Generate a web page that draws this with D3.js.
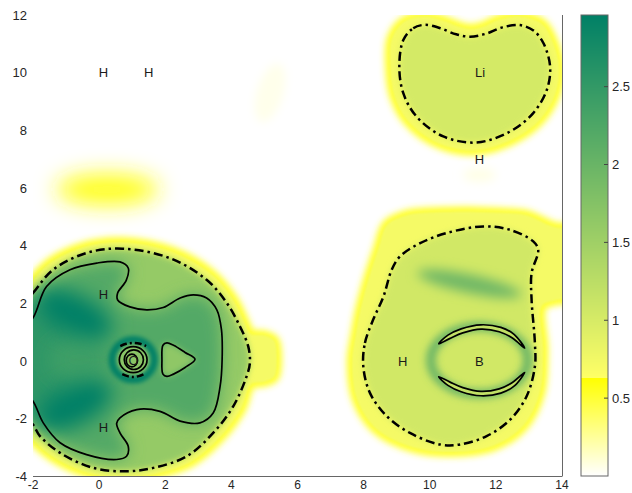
<!DOCTYPE html>
<html><head><meta charset="utf-8">
<script src="https://cdn.jsdelivr.net/npm/d3@7"></script>
<style>body{margin:0;background:#fff}svg{display:block;font-family:"Liberation Sans",Arial,sans-serif}</style>
</head><body><script>
// ---------- data (data units) ----------
const xTicks = [-2,0,2,4,6,8,10,12,14];
const yTicks = [-4,-2,0,2,4,6,8,10,12];
const cbTicks = [0.5,1,1.5,2,2.5];
const valueRange = [0, 2.96];
const yellowCut = 0.63;

const atomNames = ["H","H","H","H","Li","H","H","B","O"];
const atomPos = [[0.13,2.3],[0.13,-2.29],[0.13,10],[1.5,10],[11.52,10],[11.5,6.98],[9.18,0],[11.5,0],[1.04,0.03]];

// contour at the dash-dot level
const leftDash = [[-2.6,1.5],[-2.0,2.36],[-1.39,3.17],[-0.38,3.75],[0.7,3.9],[2.14,3.57],[3.25,2.82],[3.86,2.02],[4.26,1.2],[4.51,0.51],[4.56,-0.06],[4.46,-0.53],[4.06,-1.56],[3.45,-2.49],[2.65,-3.3],[1.64,-3.7],[0.83,-3.82],[-0.18,-3.7],[-1.18,-3.18],[-1.79,-2.6],[-2.0,-2.2],[-2.6,-1.4],[-2.9,0.05]];
const rightDash = [[7.99,-0.18],[8.04,0.63],[8.29,1.44],[8.6,2.24],[8.85,3.17],[9.1,3.63],[9.71,4.09],[10.51,4.44],[11.62,4.67],[12.43,4.55],[13.13,4.15],[13.28,3.86],[13.08,3.05],[13.08,2.13],[13.18,0.63],[13.18,-0.18],[12.93,-1.22],[12.43,-2.03],[11.72,-2.6],[10.92,-2.89],[10.31,-2.89],[9.4,-2.49],[8.7,-1.91],[8.19,-1.1]];
const liDash = [[9.2,11.13],[9.5,11.54],[9.85,11.66],[10.3,11.55],[10.8,11.33],[11.22,11.25],[11.7,11.35],[12.2,11.57],[12.73,11.65],[13.15,11.45],[13.44,11.02],[13.64,10.21],[13.54,9.4],[13.13,8.6],[12.43,7.96],[11.42,7.58],[10.41,7.79],[9.6,8.48],[9.2,9.29],[9.08,10.21]];
const oArcTop = [[0.64,0.52],[0.82,0.6],[1.03,0.63],[1.24,0.6],[1.42,0.52]];
const oArcBottom = [[0.7,-0.45],[0.86,-0.52],[1.03,-0.55],[1.2,-0.52],[1.36,-0.45]];

// edge of the yellow cut (value 0.63)
const leftPale = [[-2.7,1.7],[-2.15,2.6],[-1.5,3.4],[-0.42,3.98],[0.7,4.13],[2.2,3.8],[3.4,3.02],[4.05,2.15],[4.42,1.3],[4.58,0.95],[5.0,0.9],[5.3,0.72],[5.38,0.05],[5.3,-0.55],[5.0,-0.72],[4.6,-0.8],[4.3,-1.65],[3.65,-2.66],[2.75,-3.52],[1.67,-3.93],[0.83,-4.05],[-0.2,-3.93],[-1.3,-3.4],[-1.95,-2.8],[-2.2,-2.4],[-2.8,-1.5],[-3.1,0.05]];
const rightPale = [[7.64,0.0],[7.75,0.9],[7.89,1.78],[8.15,2.9],[8.44,3.92],[8.7,4.73],[9.3,5.07],[10.2,5.17],[11.22,5.19],[12.1,5.15],[12.93,5.07],[13.74,4.67],[14.6,4.5],[14.6,2.3],[13.8,2.1],[13.39,1.9],[13.44,0.4],[13.34,-1.1],[12.83,-2.26],[11.92,-2.95],[10.71,-3.15],[9.5,-3.0],[8.39,-2.37],[7.79,-1.33]];
const liPale = [[8.85,11.2],[9.25,11.8],[9.85,11.95],[10.4,11.82],[10.9,11.6],[11.22,11.52],[11.6,11.6],[12.1,11.85],[12.75,11.95],[13.4,11.7],[13.72,11.1],[13.92,10.2],[13.82,9.3],[13.35,8.38],[12.55,7.7],[11.42,7.3],[10.3,7.52],[9.35,8.3],[8.92,9.2],[8.8,10.2]];

// solid contour level
const leftSolid = [[-2.6,0.7],[-2.0,1.5],[-1.59,2.59],[-0.88,3.17],[-0.07,3.4],[0.63,3.44],[0.88,3.23],[0.82,2.8],[0.56,2.36],[0.56,2.12],[0.93,1.88],[1.44,1.78],[1.94,1.86],[2.45,2.19],[2.85,2.3],[3.25,2.19],[3.56,1.78],[3.7,1.09],[3.72,0.05],[3.66,-0.87],[3.45,-1.8],[3.05,-2.14],[2.45,-2.08],[1.84,-1.74],[1.14,-1.68],[0.63,-1.97],[0.53,-2.16],[0.63,-2.49],[0.88,-2.95],[0.83,-3.3],[0.53,-3.41],[-0.38,-3.24],[-1.18,-2.83],[-1.69,-2.14],[-2.0,-1.39],[-2.6,-0.6]];
const triangle = [[1.93,0.55],[2.05,0.63],[2.25,0.55],[2.6,0.3],[2.9,0.06],[2.6,-0.22],[2.25,-0.45],[2.05,-0.53],[1.93,-0.45],[1.9,0.05]];
const crescentTop = [[10.27,0.6],[10.55,0.9],[10.95,1.12],[11.55,1.26],[12.15,1.17],[12.55,0.93],[12.87,0.45],[12.5,0.8],[12.1,1.02],[11.55,1.11],[11.0,0.98],[10.6,0.78]];
const crescentBottom = [[10.27,-0.54],[10.55,-0.84],[10.95,-1.06],[11.55,-1.2],[12.15,-1.11],[12.55,-0.87],[12.87,-0.39],[12.5,-0.74],[12.1,-0.96],[11.55,-1.05],[11.0,-0.92],[10.6,-0.72]];
// rings around O: [cx, cy, rx, ry]
const oRings = [[1.03,0.05,0.42,0.45],[1.05,0.05,0.29,0.34],[0.99,0.02,0.17,0.22]];

// plateau values of the basins
const basinValues = {left: 1.6, right: 1.05, li: 1.02, solid: 2.2, pale: 0.72, halo: 0.52, crescent: 1.1};
// local features of the field: [cx, cy, rx, ry, angle, value]
const glowSpots = [[0.25,5.95,1.55,0.55,0,0.56],[5.17,9.3,0.4,1.05,17,0.05],[11.5,6.45,0.5,0.25,0,0.06]];
const leftSpots = [[-2.0,0.05,1.3,2.2,0,2.55],[-0.6,0.05,0.95,0.8,0,2.4],[-0.75,1.62,1.25,0.7,26,2.96],[-0.75,-1.52,1.25,0.7,-26,2.96]];
const rightSpots = [[11.2,2.68,1.6,0.32,12,1.95]];
const oCore = [1.03,0.05,0.5,0.55,0,1.7];
const oDarkRing = [1.03,0.05,0.64,0.7,0,2.96];
const bRing = [11.5,0.03,1.47,1.17,0,2.3];

// ---------- rendering ----------
const W = 632, H = 493;
const x = d3.scaleLinear().domain([-2,14]).range([33,562]);
const y = d3.scaleLinear().domain([-4,12]).range([476.5,15]);
const color = d3.scaleLinear()
  .domain([valueRange[0], yellowCut, yellowCut+1e-6, valueRange[1]])
  .range(["#ffffff","#ffff00","#ffff66","#008066"]).clamp(true);

const svg = d3.select("body").append("svg").attr("width",W).attr("height",H);
const defs = svg.append("defs");
[1,2,3,4,5,6,8,9,10,11].forEach(sd => {
  defs.append("filter").attr("id","b"+sd).attr("filterUnits","userSpaceOnUse")
    .attr("x",-100).attr("y",-100).attr("width",W+200).attr("height",H+200)
    .append("feGaussianBlur").attr("stdDeviation",sd);
});
defs.append("clipPath").attr("id","plotClip").append("rect")
  .attr("x",x(-2)).attr("y",y(12)).attr("width",x(14)-x(-2)).attr("height",y(-4)-y(12));

const closed = d3.line().x(d=>x(d[0])).y(d=>y(d[1])).curve(d3.curveCatmullRomClosed.alpha(0.5));
const open = d3.line().x(d=>x(d[0])).y(d=>y(d[1])).curve(d3.curveCatmullRom.alpha(0.5));

const plot = svg.append("g").attr("clip-path","url(#plotClip)");
plot.append("rect").attr("x",x(-2)).attr("y",y(12)).attr("width",x(14)-x(-2)).attr("height",y(-4)-y(12)).attr("fill","#fff");

function area(pts, v, sd, sw, op) {
  plot.append("path").attr("d",closed(pts)).attr("fill",color(v))
    .attr("stroke", sw ? color(v) : "none").attr("stroke-width", sw || 0)
    .attr("stroke-linejoin","round").attr("opacity", op || 1)
    .attr("filter", sd ? `url(#b${sd})` : null);
}
function spot(s, sd, ring) {
  const [cx,cy,rx,ry,ang,v] = s;
  const e = plot.append("ellipse").attr("cx",x(cx)).attr("cy",y(cy))
    .attr("rx",x(cx+rx)-x(cx)).attr("ry",y(cy)-y(cy+ry))
    .attr("transform",`rotate(${ang},${x(cx)},${y(cy)})`)
    .attr("filter", sd ? `url(#b${sd})` : null);
  if (ring) e.attr("fill","none").attr("stroke",color(v)).attr("stroke-width",ring);
  else e.attr("fill",color(v));
}

// faint glows
spot(glowSpots[0], 11); spot(glowSpots[1], 4); spot(glowSpots[2], 5);
// yellow halos
[leftPale, rightPale, liPale].forEach(p => area(p, basinValues.halo, 3, 10));
// pale band
[leftPale, rightPale, liPale].forEach(p => area(p, basinValues.pale, 1));
// basin plateaus
area(leftDash, basinValues.left, 3);
area(rightDash, basinValues.right, 3);
area(liDash, basinValues.li, 3);
// inner structure of the left basin
area(leftSolid, basinValues.solid, 8);
leftSpots.forEach(s => spot(s, 10));
area(triangle, 1.65, 3);
spot(oCore, 2);
spot(oDarkRing, 2, 7);
// inner structure of the right basin
rightSpots.forEach(s => spot(s, 6));
spot(bRing, 4, 7);
[crescentTop, crescentBottom].forEach(p => area(p, basinValues.crescent, 0, 0, 0.85));

// contour lines
const dashStyle = "9,4,2.5,4";
[leftDash, rightDash, liDash].forEach(p => plot.append("path").attr("d",closed(p))
  .attr("fill","none").attr("stroke","#000").attr("stroke-width",2.5).attr("stroke-dasharray",dashStyle));
[oArcTop, oArcBottom].forEach(p => plot.append("path").attr("d",open(p))
  .attr("fill","none").attr("stroke","#000").attr("stroke-width",2.5).attr("stroke-dasharray","7,3,2,3"));
[leftSolid, triangle, crescentTop, crescentBottom].forEach(p => plot.append("path").attr("d",closed(p))
  .attr("fill","none").attr("stroke","#000").attr("stroke-width",1.7));
oRings.forEach(r => plot.append("ellipse").attr("cx",x(r[0])).attr("cy",y(r[1]))
  .attr("rx",x(r[0]+r[2])-x(r[0])).attr("ry",y(r[1])-y(r[1]+r[3]))
  .attr("fill","none").attr("stroke","#000").attr("stroke-width",1.7));

// atom labels
svg.append("g").selectAll("text").data(atomNames).join("text")
  .attr("x",(d,i)=>x(atomPos[i][0])).attr("y",(d,i)=>y(atomPos[i][1]))
  .attr("text-anchor","middle").attr("dominant-baseline","central")
  .attr("font-size",13).attr("fill","#1a1a1a").text(d=>d);

// axes
const ax = svg.append("g").attr("stroke","#666").attr("stroke-width",1);
ax.append("line").attr("x1",x(-2)).attr("x2",x(14)).attr("y1",y(-4)).attr("y2",y(-4));
ax.append("line").attr("x1",x(14)+0.5).attr("x2",x(14)+0.5).attr("y1",y(12)).attr("y2",y(-4));
svg.append("g").selectAll("text").data(yTicks).join("text")
  .attr("x",27).attr("y",d=>y(d)).attr("dy","0.35em").attr("text-anchor","end")
  .attr("font-size",13).attr("fill","#262626").text(d=>d);
svg.append("g").selectAll("text").data(xTicks).join("text")
  .attr("x",d=>x(d)).attr("y",489).attr("text-anchor","middle")
  .attr("font-size",12).attr("fill","#262626").text(d=>d);

// colorbar
const cbX = 581, cbW = 27;
const cbY = d3.scaleLinear().domain(valueRange).range([476,15]);
const cb = svg.append("g");
cb.selectAll("rect").data(d3.range(Math.round(cbY(valueRange[1])), Math.round(cbY(valueRange[0])))).join("rect")
  .attr("x",cbX).attr("y",d=>d).attr("width",cbW).attr("height",1.2)
  .attr("fill",d=>color(cbY.invert(d+0.5)));
cb.append("rect").attr("x",cbX).attr("y",cbY(valueRange[1])).attr("width",cbW)
  .attr("height",cbY(valueRange[0])-cbY(valueRange[1])).attr("fill","none").attr("stroke","#666").attr("stroke-width",1);
cb.selectAll("line").data(cbTicks).join("line")
  .attr("x1",cbX+cbW-4).attr("x2",cbX+cbW).attr("y1",d=>cbY(d)).attr("y2",d=>cbY(d)).attr("stroke","#444");
cb.selectAll("text").data(cbTicks).join("text")
  .attr("x",cbX+cbW+4).attr("y",d=>cbY(d)).attr("dy","0.35em")
  .attr("font-size",13).attr("fill","#262626").text(d=>d);
</script></body></html>
